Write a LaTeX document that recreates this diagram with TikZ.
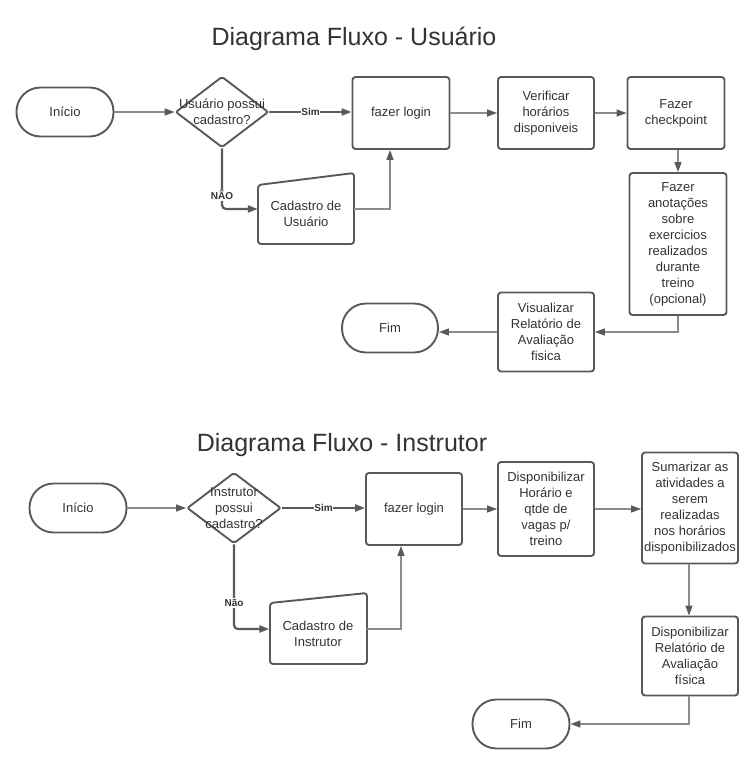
\documentclass[tikz,border=0pt]{standalone}
\usepackage{fontspec}
\setmainfont{Liberation Sans}
\usetikzlibrary{shapes.geometric,arrows.meta}
\definecolor{bdr}{HTML}{595959}
\definecolor{lgray}{HTML}{8C8C8C}
\definecolor{dgray}{HTML}{5A5A5A}
\definecolor{txt}{HTML}{333333}
\tikzset{
  box/.style={draw=bdr, line width=1.9pt, rounded corners=3pt, align=center, text=txt,
    font=\fontsize{13}{16}\selectfont, inner sep=2pt},
  term/.style={box, rounded corners=24pt, minimum width=97pt, minimum height=49pt},
  dia/.style={shape=diamond, draw=bdr, line width=1.9pt, rounded corners=2pt, line join=round, inner sep=0pt,
    minimum width=93pt, minimum height=71pt, text=txt},
  diatext/.style={align=center, text=txt, font=\fontsize{13}{16}\selectfont, inner sep=0pt},
  plain/.style={align=center, text=txt, font=\fontsize{13}{16}\selectfont, inner sep=2pt},
  manual/.style={draw=bdr, line width=1.9pt, rounded corners=3pt, line join=round},
  arr/.style={draw=lgray, line width=1.3pt, -{Triangle[length=10pt,width=7pt,color=dgray]}},
  darr/.style={draw=dgray, line width=2.2pt, rounded corners=4pt, -{Triangle[length=10pt,width=7pt,color=dgray]}},
  lbl/.style={font=\bfseries\fontsize{10}{12}\selectfont, text=txt, fill=white, inner sep=0.5pt},
  ttl/.style={font=\fontsize{25}{30}\selectfont, text=txt}
}
\begin{document}
\begin{tikzpicture}[x=1pt,y=-1pt]
\useasboundingbox[fill=white] (0,0) rectangle (749,764);

% ---------------- Usuario ----------------
\node[ttl] (t1) at (354,39) {Diagrama Fluxo - Usuário};
\node[term] (ini1) at (65,112) {Início};
\node[dia, label={[diatext]center:Usuário possui\\cadastro?}] (d1) at (222,112) {};
\node[box, minimum width=97pt, minimum height=72pt] (log1) at (401,113) {fazer login};
\node[box, minimum width=96pt, minimum height=72pt] (ver1) at (546,113) {Verificar\\horários\\disponiveis};
\node[box, minimum width=97pt, minimum height=72pt] (chk1) at (676,113) {Fazer\\checkpoint};
\node[box, minimum width=97pt, minimum height=142pt] (ano1) at (678,244) {Fazer\\anotações\\sobre\\exercicios\\realizados\\durante\\treino\\(opcional)};
\node[box, minimum width=96pt, minimum height=79pt] (vis1) at (546,332) {Visualizar\\Relatório de\\Avaliação\\fisica};
\node[term, minimum width=96pt] (fim1) at (390,328) {Fim};
\draw[manual] (258,244) -- (258,185) -- (354,173) -- (354,244) -- cycle;
\node[plain, minimum width=96pt, minimum height=60pt] (cad1) at (306,214) {Cadastro de\\Usuário};

\draw[arr] (ini1.east) -- (d1.west);
\draw[darr] (d1.east) -- node[lbl] {Sim} (d1.east -| log1.west);
\draw[arr] (log1.east) -- (ver1.west);
\draw[arr] (ver1.east) -- (chk1.west);
\draw[arr] (ano1.north |- chk1.south) -- (ano1.north);
\draw[arr] (ano1.south) |- (vis1.east);
\draw[arr] (vis1.west) -- (vis1.west -| fim1.east);
\draw[darr] (d1.south) |- ([yshift=5pt]cad1.west);
\node[lbl, inner sep=1pt] (nao1) at (222,195) {NÃO};
\draw[arr] ([yshift=5pt]cad1.east) -| ([xshift=-11pt]log1.south);

% ---------------- Instrutor ----------------
\node[ttl] (t2) at (342,445) {Diagrama Fluxo - Instrutor};
\node[term] (ini2) at (78,508) {Início};
\node[dia, minimum width=94pt, label={[diatext]center:Instrutor\\possui\\cadastro?}] (d2) at (234,508) {};
\node[box, minimum width=96pt, minimum height=72pt] (log2) at (414,509) {fazer login};
\node[box, minimum width=96pt, minimum height=94pt] (dis2) at (546,509) {Disponibilizar\\Horário e\\qtde de\\vagas p/\\treino};
\node[box, minimum width=96pt, minimum height=111pt] (sum2) at (690,508) {Sumarizar as\\atividades a\\serem\\realizadas\\nos horários\\disponibilizados};
\node[box, minimum width=96pt, minimum height=79pt] (rel2) at (690,656) {Disponibilizar\\Relatório de\\Avaliação\\física};
\node[term] (fim2) at (521,724) {Fim};
\draw[manual] (270,664) -- (270,603) -- (367,593) -- (367,664) -- cycle;
\node[plain, minimum width=97pt, minimum height=60pt] (cad2) at (318,634) {Cadastro de\\Instrutor};

\draw[arr] (ini2.east) -- (d2.west);
\draw[darr] (d2.east) -- node[lbl] {Sim} (d2.east -| log2.west);
\draw[arr] (log2.east) -- (log2.east -| dis2.west);
\draw[arr] (dis2.east) -- (dis2.east -| sum2.west);
\draw[arr] ([xshift=-1pt]sum2.south) -- ([xshift=-1pt]rel2.north);
\draw[arr] ([xshift=-1pt]rel2.south) |- (fim2.east);
\draw[darr] (d2.south) |- ([yshift=5pt]cad2.west);
\node[lbl, inner sep=1pt] (nao2) at (234,603) {Não};
\draw[arr] ([yshift=5pt]cad2.east) -| ([xshift=-13pt]log2.south);
\end{tikzpicture}
\end{document}
